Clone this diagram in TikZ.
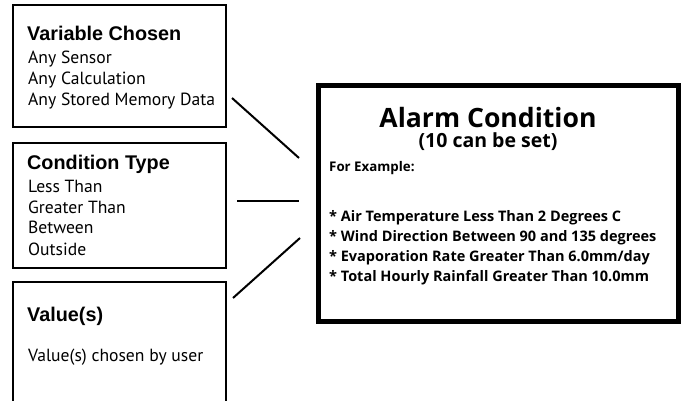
\documentclass[tikz,border=0pt]{standalone}
\usepackage{fontspec}
\setmainfont{PT Sans}
\newfontfamily\headfont{Liberation Sans}
\newfontfamily\alarmfont{Open Sans}
\usetikzlibrary{positioning}

\tikzset{
  panel/.style={draw,line width=2pt,anchor=north west,inner sep=0pt},
  bigpanel/.style={draw,line width=5pt,anchor=north west,inner sep=0pt},
  heading/.style={font=\headfont\bfseries\fontsize{19.8}{21}\selectfont,anchor=base west,inner sep=0pt},
  item/.style={font=\fontsize{17.6}{21}\selectfont,anchor=base west,inner sep=0pt},
  title/.style={font=\alarmfont\bfseries\fontsize{26.6}{30}\selectfont,anchor=base,inner sep=0pt},
  example/.style={font=\alarmfont\bfseries\fontsize{14.5}{20}\selectfont,anchor=base west,inner sep=0pt},
  link/.style={line width=2pt},
}

\begin{document}
\begin{tikzpicture}[x=1pt,y=-1pt]
	\clip (0,0) rectangle (681,401);
	
	%boxes
	\node[panel,minimum width=213pt,minimum height=122pt] (varbox) at (12,4) {}; %variable chosen
	\node[panel,minimum width=213pt,minimum height=125pt] (condbox) at (12,142) {}; %condition type
	\node[panel,minimum width=213pt,minimum height=140pt] (valbox) at (12,281) {}; %value(s), runs off the page
	\node[bigpanel,minimum width=360pt,minimum height=236pt] (alarmbox) at (316,83) {}; %alarm condition
	
	%box 1 text
	\node[heading] (varhead) at (27,40.7) {Variable Chosen};
	\node[item] (varsensor) at (28,64) {Any Sensor};
	\node[item] (varcalc) at (28,85) {Any Calculation};
	\node[item] (varmem) at (28,106) {Any Stored Memory Data};
	
	%box 2 text
	\node[heading] (condhead) at (27,169.3) {Condition Type};
	\node[item] (condless) at (28,192.7) {Less Than};
	\node[item] (condgreater) at (28,213.3) {Greater Than};
	\node[item] (condbetween) at (28,234) {Between};
	\node[item] (condoutside) at (28,255) {Outside};
	
	%box 3 text
	\node[heading] (valhead) at (27,321.7) {Value(s)};
	\node[item] (valuser) at (28,361.7) {Value(s) chosen by user};
	
	%alarm box text
	\node[title] (alarmhead) at (488,128) {Alarm Condition};
	\node[title,font=\alarmfont\bfseries\fontsize{19.5}{21}\selectfont] (alarmcount) at (488,148) {(10 can be set)};
	\node[example,font=\alarmfont\bfseries\fontsize{13.3}{20}\selectfont] (forexample) at (329,171.7) {For Example:};
	\node[example] (exair) at (329,221.7) {* Air Temperature Less Than 2 Degrees C};
	\node[example] (exwind) at (329,241.7) {* Wind Direction Between 90 and 135 degrees};
	\node[example] (exevap) at (329,261.7) {* Evaporation Rate Greater Than 6.0mm/day};
	\node[example] (exrain) at (329,281.7) {* Total Hourly Rainfall Greater Than 10.0mm};
	
	%connector lines
	\coordinate (varend) at (232,98);
	\coordinate (varalarm) at (299,158);
	\coordinate (condend) at (237,201);
	\coordinate (condalarm) at (299,201);
	\coordinate (valend) at (233,298);
	\coordinate (valalarm) at (300,238);
	\draw[link] (varend) -- (varalarm);
	\draw[link] (condend) -- (condalarm);
	\draw[link] (valend) -- (valalarm);
\end{tikzpicture}
\end{document}
